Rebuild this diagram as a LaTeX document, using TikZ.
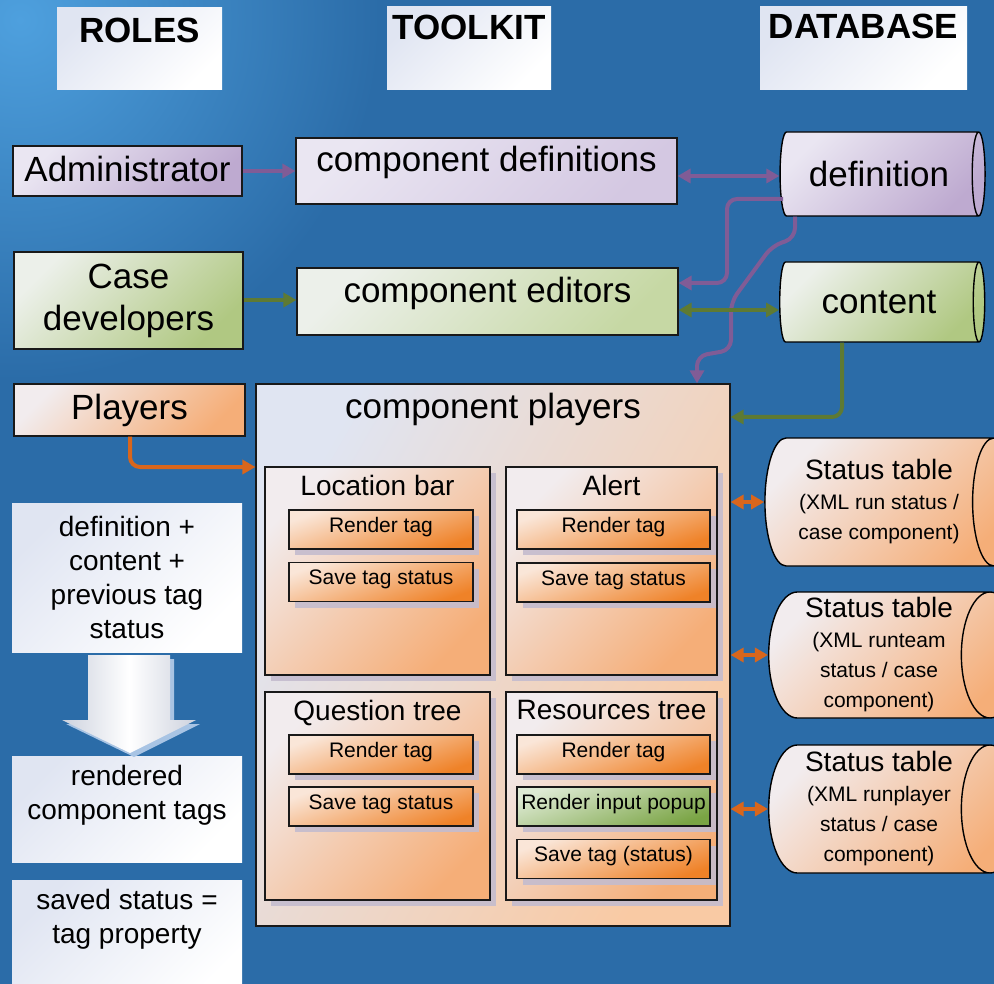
\documentclass[tikz,border=0pt]{standalone}
\usepackage{fontspec}
\setmainfont{Liberation Sans}
\usepackage{xcolor}
\usepackage{tikz}
\usetikzlibrary{positioning, shapes.geometric, shadows, arrows.meta}

\definecolor{bgblue}{RGB}{43,108,168}
\definecolor{bglight}{RGB}{78,160,222}
\definecolor{paleblue}{RGB}{224,229,242}
\definecolor{purpleA}{RGB}{234,230,242}
\definecolor{purpleB}{RGB}{190,170,208}
\definecolor{purpleC}{RGB}{212,200,226}
\definecolor{greenA}{RGB}{236,240,234}
\definecolor{greenB}{RGB}{176,200,130}
\definecolor{greenC}{RGB}{198,216,164}
\definecolor{peachA}{RGB}{242,236,238}
\definecolor{peachB}{RGB}{245,174,120}
\definecolor{peachC}{RGB}{249,202,164}
\definecolor{tagA}{RGB}{250,230,216}
\definecolor{tagB}{RGB}{239,130,40}
\definecolor{popA}{RGB}{222,234,212}
\definecolor{popB}{RGB}{122,164,68}
\definecolor{linkpurple}{RGB}{128,92,150}
\definecolor{linkgreen}{RGB}{94,122,52}
\definecolor{linkorange}{RGB}{217,102,28}
\definecolor{shadowgrey}{RGB}{196,188,206}
\definecolor{arrowgrey}{RGB}{205,210,222}
\definecolor{arrowshadow}{RGB}{168,196,228}

\begin{document}
\begin{tikzpicture}[x=1pt, y=-1pt]
	\tikzstyle{every node}=[font=\fontsize{35}{42}\selectfont, inner sep=0pt];
	\tikzstyle{box}=[rectangle, draw=black!90, line width=1.2pt];
	\tikzstyle{hdrbox}=[rectangle, top color=paleblue, bottom color=white, shading angle=45];
	\tikzstyle{hdrtext}=[font=\fontsize{35}{42}\selectfont\bfseries];
	\tikzstyle{notetext}=[font=\fontsize{28}{34}\selectfont, align=center];
	\tikzstyle{purplebox}=[box, top color=purpleA, bottom color=purpleB, shading angle=45];
	\tikzstyle{defbox}=[box, top color=purpleA, bottom color=purpleC, shading angle=45];
	\tikzstyle{greenbox}=[box, top color=greenA, bottom color=greenB, shading angle=45];
	\tikzstyle{editbox}=[box, top color=greenA, bottom color=greenC, shading angle=45];
	\tikzstyle{orangebox}=[box, top color=peachA, bottom color=peachB, shading angle=45];
	\tikzstyle{playbox}=[box, top color=paleblue, bottom color=peachC, shading angle=60];
	\tikzstyle{panel}=[box, top color=peachA, bottom color=peachB, shading angle=45,
		drop shadow={shadow xshift=6pt, shadow yshift=-6pt, fill=shadowgrey, opacity=0.9}];
	\tikzstyle{paneltitle}=[font=\fontsize{28}{34}\selectfont];
	\tikzstyle{tagbox}=[box, top color=tagA, bottom color=tagB, shading angle=20,
		font=\fontsize{21}{25}\selectfont, text height=22pt, text depth=17pt,
		drop shadow={shadow xshift=6pt, shadow yshift=-6pt, fill=shadowgrey, opacity=0.9}];
	\tikzstyle{popupbox}=[tagbox, top color=popA, bottom color=popB, shading angle=20];
	\tikzstyle{dbase}=[cylinder, draw=black, line width=1.4pt, aspect=0.5];
	\tikzstyle{dbpurple}=[dbase, top color=purpleA, bottom color=purpleB, shading angle=45];
	\tikzstyle{dbgreen}=[dbase, top color=greenA, bottom color=greenB, shading angle=45];
	\tikzstyle{dborange}=[dbase, top color=peachA, bottom color=peachB, shading angle=45,
		font=\fontsize{21}{30}\selectfont, align=center];
	\tikzstyle{plink}=[draw=linkpurple, line width=4pt, rounded corners=10pt,
		-{Stealth[length=13pt, width=14pt, inset=0pt]}];
	\tikzstyle{glink}=[plink, draw=linkgreen];
	\tikzstyle{olink}=[plink, draw=linkorange];
	\tikzstyle{twoway}=[{Stealth[length=13pt, width=14pt, inset=0pt]}-{Stealth[length=13pt, width=14pt, inset=0pt]}];

	\useasboundingbox (0, 0) rectangle (994, 984);
	\clip (0, 0) rectangle (994, 984);

	%Background
	\fill[bgblue] (0, 0) rectangle (994, 984);
	\shade[inner color=bglight, outer color=bgblue] (20, 20) circle (360);

	%Headers
	\node[hdrbox, minimum width=165pt, minimum height=82pt] (roles) at (139.5, 49) {};
	\node[hdrtext, below=10pt of roles.north] (roles-t) {ROLES};
	\node[hdrbox, minimum width=164pt, minimum height=83pt] (toolkit) at (469, 48.5) {};
	\node[hdrtext, below=8pt of toolkit.north] (toolkit-t) {TOOLKIT};
	\node[hdrbox, minimum width=207pt, minimum height=83pt] (database) at (863.5, 48.5) {};
	\node[hdrtext, below=7pt of database.north] (database-t) {DATABASE};

	%Roles
	\node[purplebox, minimum width=229pt, minimum height=50pt, text depth=4pt] (admin) at (127.5, 171) {Administrator};
	\node[greenbox, minimum width=229pt, minimum height=97pt, align=center] (casedev) at (128.5, 300.5) {Case\\developers};
	\node[orangebox, minimum width=231pt, minimum height=52pt] (players) at (129.5, 410) {Players};

	%Notes
	\node[hdrbox, minimum width=230pt, minimum height=149pt, notetext] (inputs) at (127, 577.5) {definition +\\content +\\previous tag\\status};
	\node[hdrbox, minimum width=230pt, minimum height=106pt] (rendered) at (127, 809) {};
	\node[notetext, below=9pt of rendered.north] (rendered-t) {rendered\\component tags};
	\node[hdrbox, minimum width=230pt, minimum height=120pt] (saved) at (127, 940) {};
	\node[notetext, below=9pt of saved.north] (saved-t) {saved status =\\tag property};
	\fill[arrowshadow] (92, 659) -- (174, 659) -- (174, 724) -- (200, 724) -- (134, 757) -- (66, 724) -- (92, 724) -- cycle;
	\shade[left color=arrowgrey, right color=arrowgrey, middle color=white] (88, 655) -- (170, 655) -- (170, 720) -- (196, 720) -- (130, 753) -- (62, 720) -- (88, 720) -- cycle;

	%Toolkit
	\node[defbox, minimum width=381pt, minimum height=66pt] (compdef) at (486.5, 171) {};
	\node[below=9pt of compdef.north] (compdef-t) {component definitions};
	\node[editbox, minimum width=381pt, minimum height=67pt] (compedit) at (487.5, 301.5) {};
	\node[below=10pt of compedit.north] (compedit-t) {component editors};
	\node[playbox, minimum width=474pt, minimum height=542pt] (compplay) at (493, 655) {};
	\node[below=10pt of compplay.north] (compplay-t) {component players};

	%Players
	\node[panel, minimum width=225pt, minimum height=208pt] (locbar) at (377.5, 571) {};
	\node[paneltitle, below=9pt of locbar.north] (locbar-t) {Location bar};
	\node[panel, minimum width=211pt, minimum height=208pt] (alert) at (611.5, 571) {};
	\node[paneltitle, below=9pt of alert.north] (alert-t) {Alert};
	\node[panel, minimum width=225pt, minimum height=208pt] (qtree) at (377.5, 796) {};
	\node[paneltitle, below=9pt of qtree.north] (qtree-t) {Question tree};
	\node[panel, minimum width=211pt, minimum height=208pt] (rtree) at (611.5, 796) {};
	\node[paneltitle, below=9pt of rtree.north] (rtree-t) {Resources tree};

	\node[tagbox, minimum width=184pt] (lb-render) at (381, 529.5) {Render tag};
	\node[tagbox, minimum width=184pt] (lb-save) at (381, 582) {Save tag status};
	\node[tagbox, minimum width=193pt] (al-render) at (613.5, 529.5) {Render tag};
	\node[tagbox, minimum width=193pt] (al-save) at (613.5, 582.5) {Save tag status};
	\node[tagbox, minimum width=184pt] (qt-render) at (381, 754.5) {Render tag};
	\node[tagbox, minimum width=184pt] (qt-save) at (381, 806.5) {Save tag status};
	\node[tagbox, minimum width=193pt] (rt-render) at (613.5, 754.5) {Render tag};
	\node[popupbox, minimum width=193pt] (rt-popup) at (613.5, 806.5) {Render input popup};
	\node[tagbox, minimum width=193pt] (rt-save) at (613.5, 859) {Save tag (status)};

	%Database
	\node[dbpurple, minimum height=205pt, minimum width=84pt] (defn) at (879, 174) {definition};
	\node[dbgreen, minimum height=205pt, minimum width=80pt] (content) at (879, 302) {content};
	\node[dborange, minimum height=250pt, minimum width=128pt] (st1) at (879, 502) {{\fontsize{28}{30}\selectfont Status table}\\(XML run status /\\case component)};
	\node[dborange, minimum height=250pt, minimum width=126pt] (st2) at (879, 655) {{\fontsize{28}{30}\selectfont Status table}\\(XML runteam\\status / case\\component)};
	\node[dborange, minimum height=250pt, minimum width=128pt] (st3) at (879, 809) {{\fontsize{28}{30}\selectfont Status table}\\(XML runplayer\\status / case\\component)};

	%Links
	\draw[plink] (admin.east) -- (compdef.west);
	\draw[plink, twoway] (compdef.east |- 0, 176) -- (defn.west |- 0, 176);
	\draw[plink] (783, 199) -- (727, 199) -- (727, 283) -- (compedit.east |- 0, 283);
	\draw[plink] (795, 0 |- defn.south) -- (795, 238) -- (772, 246) -- (731, 302) -- (731, 350) -- (697, 356) -- (697, 0 |- compplay.north);
	\draw[glink] (casedev.east |- 0, 300) -- (compedit.west |- 0, 300);
	\draw[glink, twoway] (compedit.east |- 0, 310) -- (content.west |- 0, 310);
	\draw[glink] (842, 0 |- content.south) -- (842, 417) -- (compplay.east |- 0, 417);
	\draw[olink] (130, 0 |- players.south) -- (130, 467) -- (compplay.west |- 0, 467);
	\draw[olink, twoway] (compplay.east |- st1.west) -- (st1.west);
	\draw[olink, twoway] (compplay.east |- st2.west) -- (st2.west);
	\draw[olink, twoway] (compplay.east |- st3.west) -- (st3.west);
\end{tikzpicture}
\end{document}
